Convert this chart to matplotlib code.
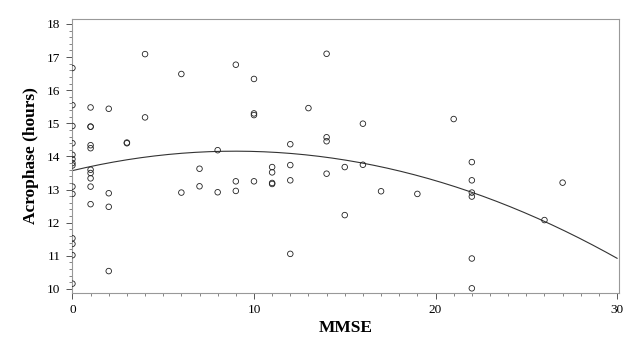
import numpy as np
import matplotlib.pyplot as plt
from matplotlib.ticker import MultipleLocator

# MMSE score and acrophase (hours)
mmse = [0]*14 + [1]*10 + [2]*4 + [3]*2 + [4]*2 + [6]*2 + [7]*2 + [8]*2 + [9]*3 \
    + [10]*4 + [11]*4 + [12]*4 + [13] + [14]*4 + [15]*2 + [16]*2 + [17] + [19] \
    + [21] + [22]*6 + [26] + [27]
acrophase = [
    16.67, 15.55, 14.92, 14.40, 14.05, 13.92, 13.80, 13.73, 13.09, 12.87, 11.53, 11.36, 11.02, 10.16,  # 0
    15.48, 14.90, 14.90, 14.34, 14.25, 13.60, 13.50, 13.34, 13.09, 12.56,  # 1
    15.44, 12.89, 12.48, 10.54,  # 2
    14.42, 14.40,  # 3
    17.09, 15.18,  # 4
    16.49, 12.91,  # 6
    13.63, 13.10,  # 7
    14.19, 12.92,  # 8
    16.77, 13.25, 12.96,  # 9
    16.34, 15.30, 15.25, 13.25,  # 10
    13.68, 13.52, 13.20, 13.17,  # 11
    14.37, 13.74, 13.28, 11.06,  # 12
    15.46,  # 13
    17.10, 14.58, 14.46, 13.48,  # 14
    13.68, 12.23,  # 15
    14.99, 13.75,  # 16
    12.95,  # 17
    12.87,  # 19
    15.13,  # 21
    13.83, 13.28, 12.91, 12.79, 10.92, 10.02,  # 22
    12.08,  # 26
    13.21,  # 27
]

xticks = [0, 10, 20, 30]
yticks = [10, 11, 12, 13, 14, 15, 16, 17, 18]

plt.rcParams['font.family'] = ['Liberation Serif', 'DejaVu Serif']

fig = plt.figure(figsize=(6.42, 3.5), dpi=100)
ax = fig.add_axes([0.1114, 0.163, 0.8526, 0.7827])

ax.scatter(mmse, acrophase, s=16, facecolors='none', edgecolors='#222222', linewidths=0.6, zorder=3)

# quadratic regression line
coef = np.polyfit(mmse, acrophase, 2)
xs = np.linspace(0, 30, 200)
ax.plot(xs, np.polyval(coef, xs), color='#333333', lw=0.8)

ax.set_xlim(-0.05, 30.1)
ax.set_ylim(9.88, 18.15)
ax.set_xticks(xticks)
ax.set_yticks(yticks)
ax.xaxis.set_minor_locator(MultipleLocator(1))
ax.yaxis.set_minor_locator(MultipleLocator(0.2))
ax.tick_params(which='major', direction='out', length=4, width=0.7, color='#555555', labelsize=9.5, pad=4)
ax.tick_params(which='minor', direction='out', length=2, width=0.5, color='#555555')
for s in ax.spines.values():
    s.set_color('#999999')
    s.set_linewidth(0.8)

ax.set_xlabel('MMSE', fontsize=12.5, fontweight='bold', labelpad=3)
ax.set_ylabel('Acrophase (hours)', fontsize=12.5, fontweight='bold', labelpad=6)

fig.savefig('out.png', dpi=100)
